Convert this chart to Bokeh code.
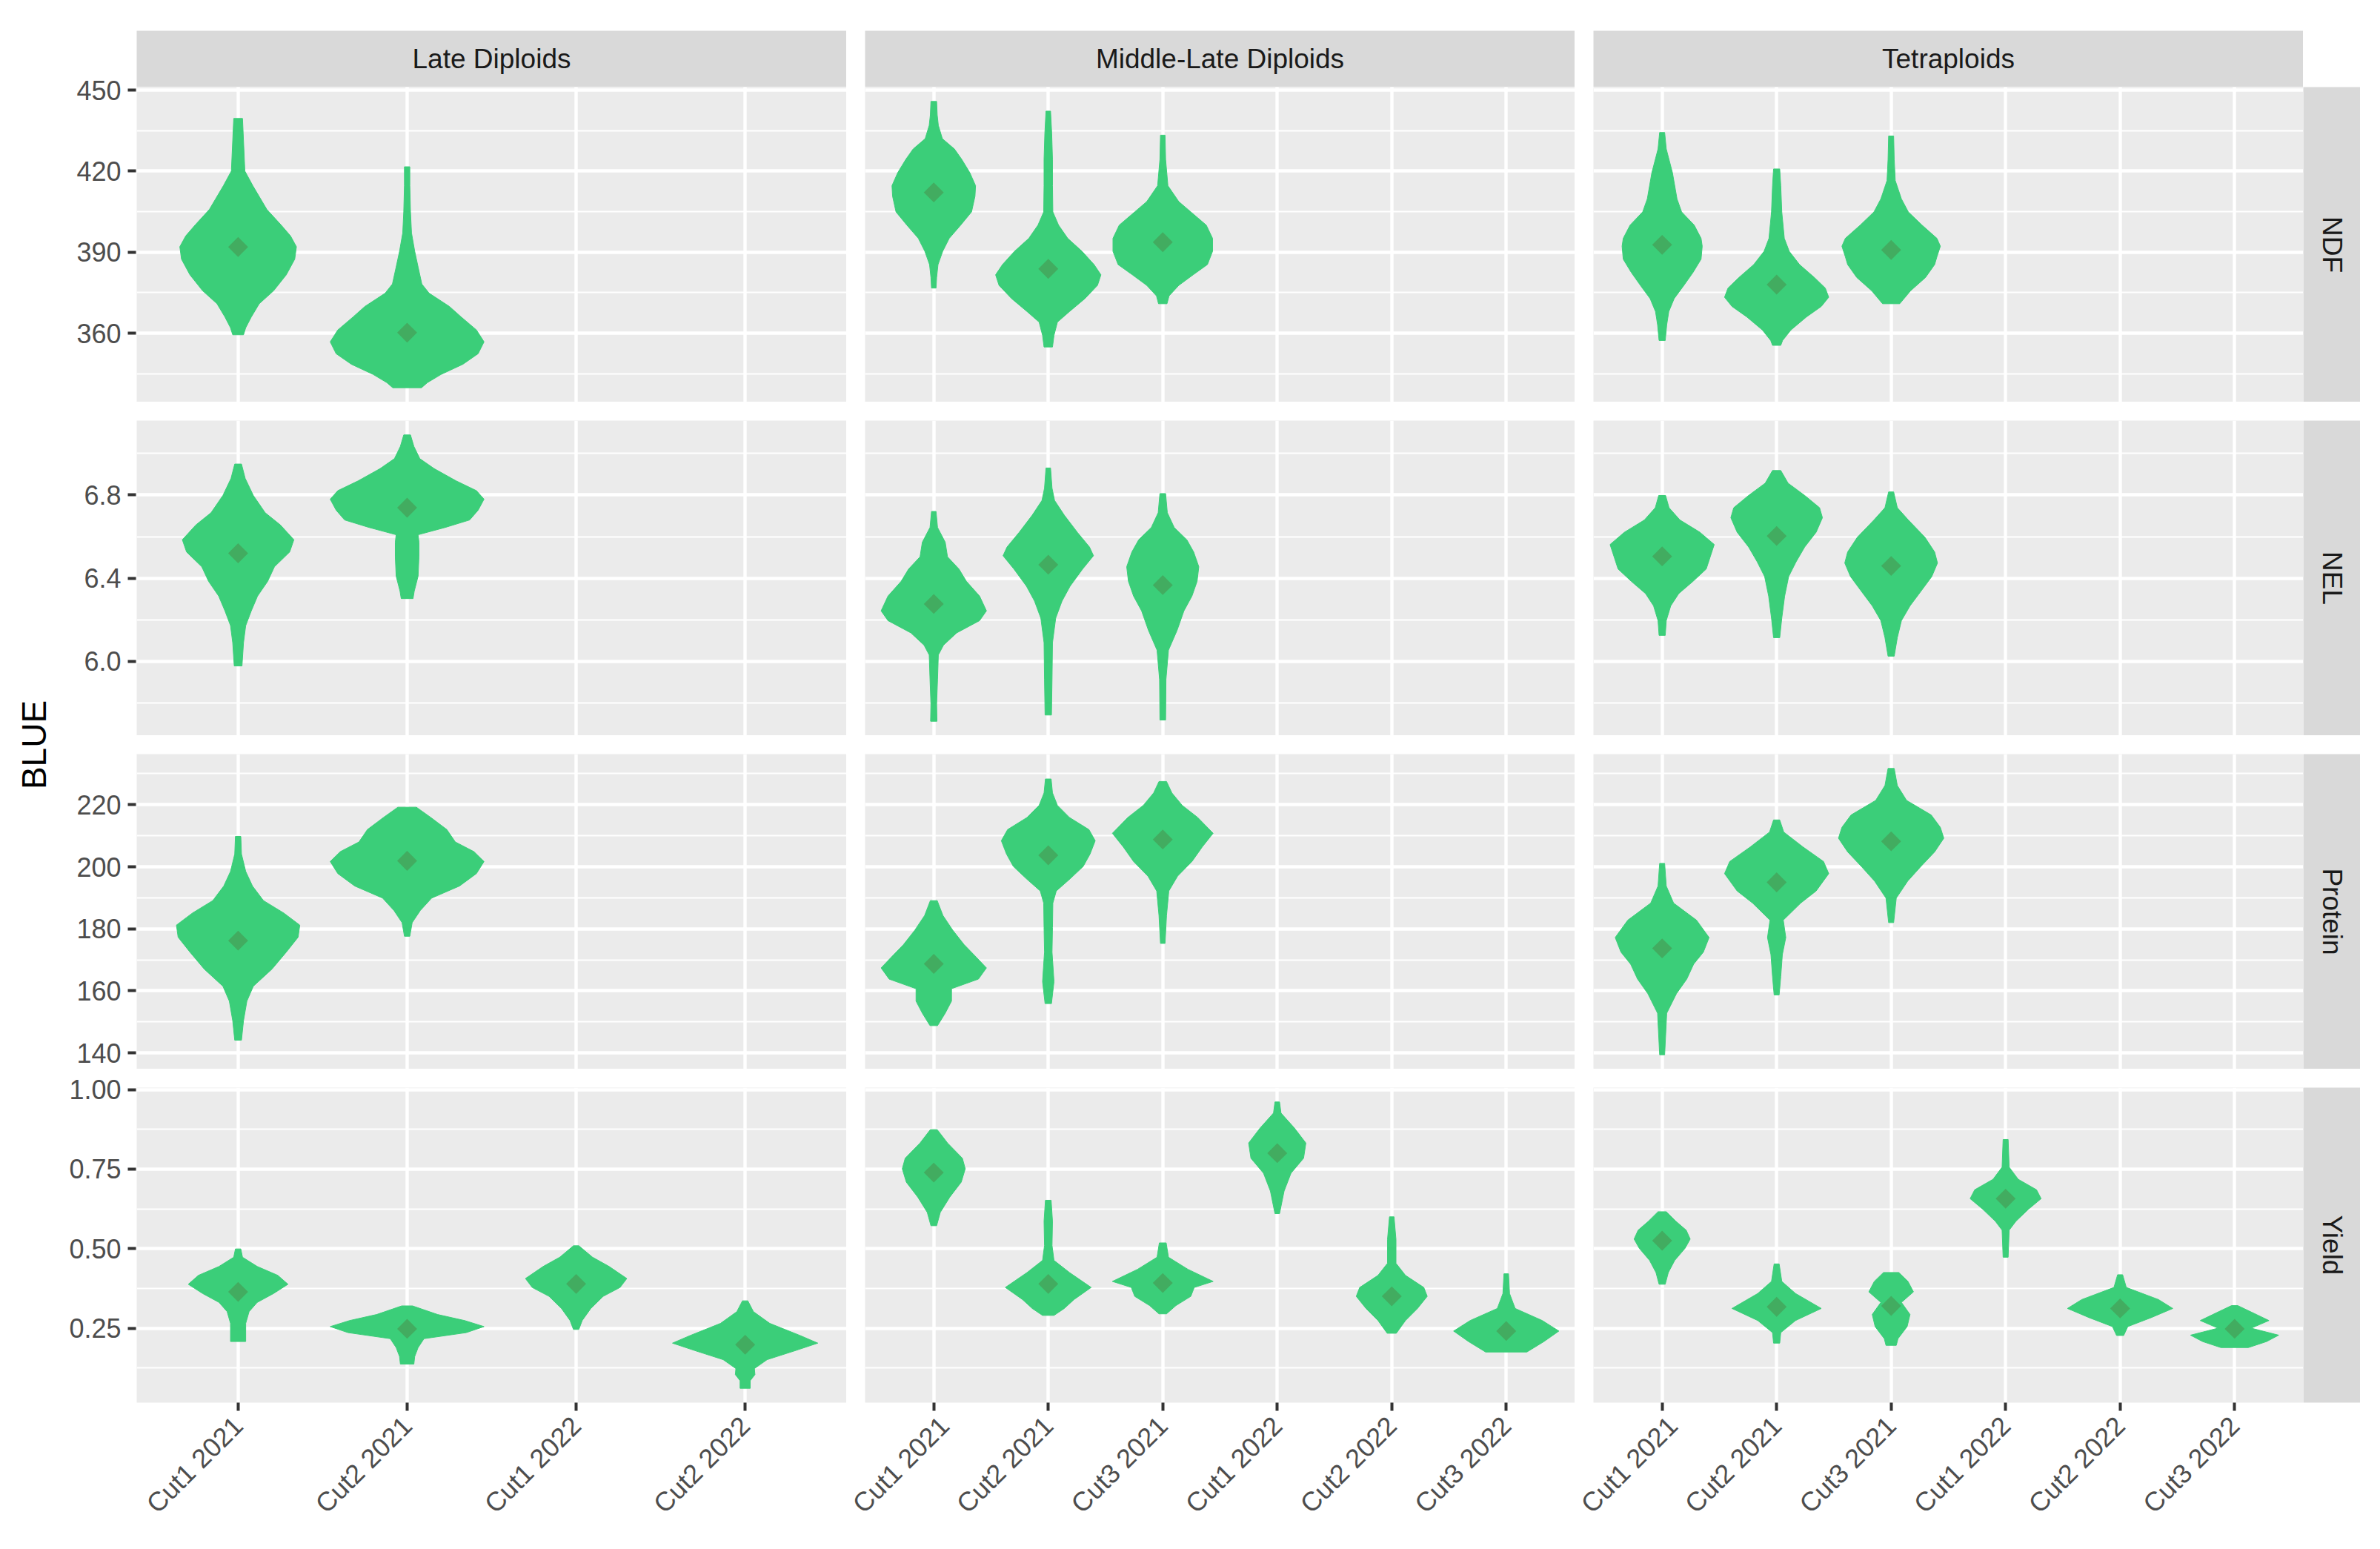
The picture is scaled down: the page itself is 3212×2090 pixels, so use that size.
import math
from bokeh.plotting import figure
from bokeh.models import Range1d, LinearAxis, FixedTicker, Grid, Spacer
from bokeh.layouts import row, column
from bokeh.core.properties import value
from bokeh.embed import file_html
from bokeh.resources import INLINE

# ---------------- data ----------------
groups = ["Late Diploids", "Middle-Late Diploids", "Tetraploids"]
traits = ["NDF", "NEL", "Protein", "Yield"]
cuts_late = ["Cut1 2021", "Cut2 2021", "Cut1 2022", "Cut2 2022"]
cuts_other = ["Cut1 2021", "Cut2 2021", "Cut3 2021", "Cut1 2022", "Cut2 2022", "Cut3 2022"]

ndf_ticks = [360, 390, 420, 450]
ndf_tick_labels = ["360", "390", "420", "450"]
ndf_minor = [345, 375, 405, 435]
nel_ticks = [6.0, 6.4, 6.8]
nel_tick_labels = ["6.0", "6.4", "6.8"]
nel_minor = [5.8, 6.2, 6.6, 7.0]
protein_ticks = [140, 160, 180, 200, 220]
protein_tick_labels = ["140", "160", "180", "200", "220"]
protein_minor = [150, 170, 190, 210, 230]
yield_ticks = [0.25, 0.50, 0.75, 1.00]
yield_tick_labels = ["0.25", "0.50", "0.75", "1.00"]
yield_minor = [0.125, 0.375, 0.625, 0.875]

# Violin outlines: value levels (top to bottom) and half-widths (category units)
# ---- NDF ----
ndf_late_cut = ["Cut1 2021", "Cut2 2021"]
ndf_late_mean = [391.9, 360.2]
ndf_late_y = [
    [439.5, 434, 420, 414.6, 405.8, 400, 396, 392, 387.4, 381.6, 375.7, 370.9, 366, 362, 359.4],
    [421.6, 414.6, 404.9, 397.1, 390.3, 384.5, 378.2, 374.8, 369.9, 366, 361.2, 356.8, 352.4, 348.5, 344.7, 341.7, 339.8],
]
ndf_late_w = [
    [0.026, 0.03, 0.04, 0.087, 0.17, 0.255, 0.31, 0.345, 0.335, 0.285, 0.21, 0.125, 0.078, 0.045, 0.032],
    [0.016, 0.016, 0.02, 0.026, 0.045, 0.065, 0.087, 0.13, 0.25, 0.32, 0.41, 0.455, 0.42, 0.33, 0.2, 0.12, 0.085],
]
ndf_mid_cut = ["Cut1 2021", "Cut2 2021", "Cut3 2021"]
ndf_mid_mean = [412.1, 383.8, 393.7]
ndf_mid_y = [
    [445.8, 440.8, 436.9, 432, 428.2, 424.3, 419.4, 414.6, 410.7, 404.9, 400, 395.1, 390.3, 385.4, 380.6, 376.7],
    [442.2, 434, 424.3, 414.6, 404.9, 400, 395.1, 390.3, 385.4, 381.6, 377.7, 372.8, 368, 364.1, 359.2, 354.9],
    [433.3, 424.3, 414.6, 408.7, 404.9, 400, 395.1, 390.3, 385.4, 381.6, 377.7, 373.8, 370.9],
]
ndf_mid_w = [
    [0.025, 0.03, 0.04, 0.075, 0.18, 0.245, 0.315, 0.365, 0.36, 0.33, 0.235, 0.135, 0.078, 0.037, 0.025, 0.02],
    [0.02, 0.03, 0.037, 0.037, 0.04, 0.09, 0.17, 0.295, 0.4, 0.46, 0.43, 0.32, 0.185, 0.08, 0.05, 0.037],
    [0.02, 0.025, 0.045, 0.14, 0.245, 0.38, 0.435, 0.435, 0.39, 0.265, 0.14, 0.055, 0.037],
]
ndf_tetra_cut = ["Cut1 2021", "Cut2 2021", "Cut3 2021"]
ndf_tetra_mean = [392.7, 378.0, 390.8]
ndf_tetra_y = [
    [434.3, 428.2, 419.4, 409.7, 404.9, 400, 395.1, 392.2, 387.4, 382.5, 377.7, 372.8, 368, 363.1, 357.3],
    [420.8, 414.6, 404.9, 395.1, 390.3, 385.4, 380.6, 376.7, 373.3, 369.9, 366, 361.2, 357.3, 355.5],
    [433, 424.3, 416.5, 409.7, 404.9, 400, 395.1, 392.2, 388.3, 385.4, 380.6, 375.7, 370.9],
]
ndf_tetra_w = [
    [0.022, 0.036, 0.09, 0.13, 0.17, 0.28, 0.34, 0.35, 0.34, 0.27, 0.19, 0.105, 0.058, 0.04, 0.027],
    [0.027, 0.036, 0.045, 0.067, 0.11, 0.2, 0.33, 0.425, 0.455, 0.39, 0.26, 0.125, 0.052, 0.036],
    [0.022, 0.027, 0.036, 0.09, 0.15, 0.27, 0.4, 0.43, 0.4, 0.38, 0.3, 0.17, 0.075],
]
# ---- NEL ----
nel_late_cut = ["Cut1 2021", "Cut2 2021"]
nel_late_mean = [6.52, 6.739]
nel_late_y = [
    [6.949, 6.88, 6.798, 6.715, 6.656, 6.585, 6.526, 6.455, 6.385, 6.314, 6.243, 6.172, 6.09, 5.978],
    [7.089, 7.034, 6.975, 6.927, 6.868, 6.821, 6.78, 6.727, 6.68, 6.644, 6.609, 6.573, 6.503, 6.41, 6.337, 6.302],
]
nel_late_w = [
    [0.02, 0.042, 0.09, 0.16, 0.25, 0.33, 0.305, 0.215, 0.175, 0.115, 0.078, 0.045, 0.032, 0.023],
    [0.02, 0.04, 0.075, 0.16, 0.29, 0.41, 0.455, 0.42, 0.37, 0.225, 0.065, 0.07, 0.07, 0.065, 0.042, 0.035],
]
nel_mid_cut = ["Cut1 2021", "Cut2 2021", "Cut3 2021"]
nel_mid_mean = [6.276, 6.465, 6.367]
nel_mid_y = [
    [6.721, 6.644, 6.573, 6.503, 6.444, 6.385, 6.314, 6.243, 6.196, 6.137, 6.078, 6.031, 5.913, 5.795, 5.712],
    [6.93, 6.833, 6.774, 6.703, 6.62, 6.55, 6.508, 6.444, 6.361, 6.29, 6.208, 6.09, 5.913, 5.742],
    [6.807, 6.715, 6.644, 6.585, 6.526, 6.455, 6.385, 6.314, 6.243, 6.149, 6.054, 5.913, 5.718],
]
nel_mid_w = [
    [0.02, 0.033, 0.1, 0.12, 0.22, 0.285, 0.4, 0.46, 0.4, 0.2, 0.085, 0.04, 0.033, 0.025, 0.028],
    [0.02, 0.033, 0.055, 0.14, 0.255, 0.36, 0.395, 0.3, 0.19, 0.12, 0.065, 0.037, 0.033, 0.028],
    [0.025, 0.04, 0.1, 0.21, 0.27, 0.315, 0.3, 0.255, 0.185, 0.125, 0.05, 0.028, 0.025],
]
nel_tetra_cut = ["Cut1 2021", "Cut2 2021", "Cut3 2021"]
nel_tetra_mean = [6.505, 6.603, 6.459]
nel_tetra_y = [
    [6.798, 6.739, 6.68, 6.621, 6.562, 6.503, 6.444, 6.385, 6.326, 6.267, 6.196, 6.125],
    [6.918, 6.857, 6.798, 6.739, 6.691, 6.621, 6.55, 6.479, 6.408, 6.314, 6.208, 6.114],
    [6.815, 6.739, 6.68, 6.597, 6.526, 6.473, 6.408, 6.337, 6.267, 6.196, 6.114, 6.025],
]
nel_tetra_w = [
    [0.03, 0.06, 0.155, 0.33, 0.455, 0.42, 0.385, 0.27, 0.145, 0.075, 0.036, 0.027],
    [0.036, 0.1, 0.245, 0.375, 0.4, 0.345, 0.245, 0.17, 0.105, 0.07, 0.045, 0.027],
    [0.022, 0.054, 0.15, 0.295, 0.38, 0.405, 0.355, 0.26, 0.165, 0.09, 0.054, 0.027],
]
# ---- Protein ----
protein_late_cut = ["Cut1 2021", "Cut2 2021"]
protein_late_mean = [176.2, 201.9]
protein_late_y = [
    [209.8, 204.1, 198.5, 193.8, 189.1, 185.1, 181.2, 177.3, 172.5, 167, 161.5, 156.7, 150.4, 144.1],
    [219.2, 215.9, 212, 208, 204.9, 201.7, 197.8, 193.8, 189.9, 185.9, 182, 177.6],
]
protein_late_w = [
    [0.016, 0.02, 0.045, 0.085, 0.15, 0.27, 0.365, 0.355, 0.285, 0.2, 0.09, 0.052, 0.032, 0.02],
    [0.055, 0.14, 0.235, 0.285, 0.395, 0.455, 0.41, 0.31, 0.145, 0.078, 0.03, 0.016],
]
protein_mid_cut = ["Cut1 2021", "Cut2 2021", "Cut3 2021"]
protein_mid_mean = [168.7, 203.7, 208.8]
protein_mid_y = [
    [189.1, 184.3, 179.6, 174.9, 170.9, 167.4, 163.8, 160.7, 156.7, 152.8, 148.8],
    [228.3, 223.8, 219.8, 215.9, 212, 208.4, 204.1, 200.1, 196.1, 192.2, 188.3, 180.4, 172.5, 168.6, 163, 155.9],
    [227.5, 223.8, 219.8, 215.9, 210.8, 206.4, 201.7, 197, 192.2, 184.3, 175.3],
]
protein_mid_w = [
    [0.03, 0.08, 0.165, 0.265, 0.37, 0.46, 0.39, 0.155, 0.155, 0.1, 0.033],
    [0.025, 0.037, 0.08, 0.185, 0.355, 0.41, 0.365, 0.305, 0.19, 0.07, 0.04, 0.037, 0.033, 0.04, 0.05, 0.028],
    [0.033, 0.08, 0.17, 0.305, 0.44, 0.345, 0.255, 0.13, 0.053, 0.033, 0.02],
]
protein_tetra_cut = ["Cut1 2021", "Cut2 2021", "Cut3 2021"]
protein_tetra_mean = [173.7, 195.0, 208.2]
protein_tetra_y = [
    [201.1, 193.8, 188.3, 182.8, 177.2, 172.5, 168.6, 163.8, 159.1, 152.8, 139.4],
    [215.1, 211.2, 206.4, 201.7, 197.8, 192.2, 188.3, 182.8, 177.2, 171.7, 164.6, 158.7],
    [231.7, 226.2, 221.4, 216.7, 212.7, 209.2, 204.8, 200.1, 195.4, 189.9, 182],
]
protein_tetra_w = [
    [0.022, 0.036, 0.1, 0.3, 0.41, 0.36, 0.275, 0.215, 0.125, 0.04, 0.022],
    [0.027, 0.062, 0.23, 0.41, 0.455, 0.345, 0.21, 0.058, 0.08, 0.05, 0.036, 0.022],
    [0.027, 0.054, 0.135, 0.35, 0.43, 0.46, 0.38, 0.26, 0.145, 0.045, 0.022],
]
# ---- Yield ----
yield_late_cut = ["Cut1 2021", "Cut2 2021", "Cut1 2022", "Cut2 2022"]
yield_late_mean = [0.364, 0.248, 0.389, 0.198]
yield_late_y = [
    [0.499, 0.473, 0.444, 0.416, 0.388, 0.359, 0.331, 0.302, 0.265, 0.236, 0.208],
    [0.32, 0.293, 0.274, 0.255, 0.236, 0.217, 0.189, 0.161, 0.137],
    [0.509, 0.473, 0.444, 0.406, 0.378, 0.35, 0.312, 0.274, 0.246],
    [0.336, 0.302, 0.265, 0.227, 0.203, 0.18, 0.151, 0.123, 0.104, 0.085, 0.061],
]
yield_late_w = [
    [0.016, 0.026, 0.113, 0.235, 0.295, 0.21, 0.113, 0.065, 0.045, 0.045, 0.045],
    [0.032, 0.18, 0.34, 0.455, 0.35, 0.1, 0.065, 0.045, 0.04],
    [0.016, 0.097, 0.195, 0.3, 0.26, 0.16, 0.087, 0.036, 0.016],
    [0.016, 0.049, 0.146, 0.325, 0.43, 0.3, 0.13, 0.055, 0.058, 0.03, 0.03],
]
yield_mid_cut = ["Cut1 2021", "Cut2 2021", "Cut3 2021", "Cut1 2022", "Cut2 2022", "Cut3 2022"]
yield_mid_mean = [0.739, 0.389, 0.392, 0.80, 0.35, 0.241]
yield_mid_y = [
    [0.874, 0.832, 0.784, 0.751, 0.709, 0.662, 0.614, 0.572],
    [0.652, 0.586, 0.51, 0.463, 0.425, 0.378, 0.34, 0.312, 0.29],
    [0.518, 0.473, 0.435, 0.397, 0.378, 0.35, 0.321, 0.295],
    [0.961, 0.926, 0.879, 0.832, 0.784, 0.737, 0.681, 0.61],
    [0.6, 0.529, 0.454, 0.416, 0.378, 0.35, 0.312, 0.274, 0.234],
    [0.421, 0.359, 0.312, 0.274, 0.241, 0.208, 0.175],
]
yield_mid_w = [
    [0.03, 0.12, 0.25, 0.275, 0.24, 0.14, 0.057, 0.025],
    [0.025, 0.037, 0.033, 0.05, 0.185, 0.375, 0.225, 0.14, 0.05],
    [0.03, 0.05, 0.22, 0.44, 0.275, 0.245, 0.115, 0.033],
    [0.02, 0.033, 0.15, 0.25, 0.23, 0.12, 0.06, 0.02],
    [0.02, 0.037, 0.037, 0.12, 0.28, 0.31, 0.225, 0.12, 0.04],
    [0.02, 0.029, 0.078, 0.315, 0.46, 0.33, 0.18],
]
yield_tetra_cut = ["Cut1 2021", "Cut2 2021", "Cut3 2021", "Cut1 2022", "Cut2 2022", "Cut3 2022"]
yield_tetra_mean = [0.525, 0.317, 0.32, 0.657, 0.312, 0.248]
yield_tetra_y = [
    [0.616, 0.586, 0.558, 0.53, 0.501, 0.463, 0.425, 0.388],
    [0.452, 0.397, 0.359, 0.312, 0.274, 0.236, 0.203],
    [0.425, 0.397, 0.364, 0.331, 0.293, 0.255, 0.217, 0.196],
    [0.843, 0.756, 0.718, 0.685, 0.657, 0.624, 0.586, 0.558, 0.473],
    [0.418, 0.378, 0.34, 0.312, 0.283, 0.255, 0.227],
    [0.321, 0.293, 0.274, 0.25, 0.228, 0.208, 0.189],
]
yield_tetra_w = [
    [0.036, 0.12, 0.21, 0.245, 0.2, 0.11, 0.054, 0.027],
    [0.022, 0.045, 0.165, 0.39, 0.165, 0.036, 0.027],
    [0.067, 0.147, 0.195, 0.09, 0.165, 0.14, 0.06, 0.045],
    [0.022, 0.031, 0.11, 0.27, 0.31, 0.2, 0.09, 0.031, 0.022],
    [0.022, 0.054, 0.335, 0.46, 0.27, 0.067, 0.031],
    [0.027, 0.19, 0.3, 0.145, 0.385, 0.28, 0.12],
]

# --------------- tables built from the lists ---------------
PANELS = {
    ("NDF", 0): (ndf_late_cut, ndf_late_mean, ndf_late_y, ndf_late_w),
    ("NDF", 1): (ndf_mid_cut, ndf_mid_mean, ndf_mid_y, ndf_mid_w),
    ("NDF", 2): (ndf_tetra_cut, ndf_tetra_mean, ndf_tetra_y, ndf_tetra_w),
    ("NEL", 0): (nel_late_cut, nel_late_mean, nel_late_y, nel_late_w),
    ("NEL", 1): (nel_mid_cut, nel_mid_mean, nel_mid_y, nel_mid_w),
    ("NEL", 2): (nel_tetra_cut, nel_tetra_mean, nel_tetra_y, nel_tetra_w),
    ("Protein", 0): (protein_late_cut, protein_late_mean, protein_late_y, protein_late_w),
    ("Protein", 1): (protein_mid_cut, protein_mid_mean, protein_mid_y, protein_mid_w),
    ("Protein", 2): (protein_tetra_cut, protein_tetra_mean, protein_tetra_y, protein_tetra_w),
    ("Yield", 0): (yield_late_cut, yield_late_mean, yield_late_y, yield_late_w),
    ("Yield", 1): (yield_mid_cut, yield_mid_mean, yield_mid_y, yield_mid_w),
    ("Yield", 2): (yield_tetra_cut, yield_tetra_mean, yield_tetra_y, yield_tetra_w),
}
TICKS = {
    "NDF": (ndf_ticks, ndf_tick_labels, ndf_minor),
    "NEL": (nel_ticks, nel_tick_labels, nel_minor),
    "Protein": (protein_ticks, protein_tick_labels, protein_minor),
    "Yield": (yield_ticks, yield_tick_labels, yield_minor),
}
COL_CUTS = [cuts_late, cuts_other, cuts_other]

# --------------- styling ---------------
FONT = "Liberation Sans"
FILL = "#3BCE79"
MEAN_COLOR = "#42AC60"
PANEL_BG = "#EBEBEB"
STRIP_BG = "#D9D9D9"
FRAME_W = 958
FRAME_H = 425
GAP = 25
AXIS_W = 96
BLUE_W = 88
STRIP_H = 76
TOP_PAD = 41
HEAD = TOP_PAD + STRIP_H
BOTTOM_AXIS = 185
RSTRIP_W = 77


def yrange(trait):
    lo = min(min(v) for c in range(3) for v in PANELS[(trait, c)][2])
    hi = max(max(v) for c in range(3) for v in PANELS[(trait, c)][2])
    pad = 0.05 * (hi - lo)
    return lo - pad, hi + pad


YR = {t: yrange(t) for t in traits}


def axis_style(ax):
    ax.axis_line_color = None
    ax.major_tick_line_color = "#333333"
    ax.major_tick_line_width = 4
    ax.major_tick_out = 11
    ax.major_tick_in = 0
    ax.minor_tick_line_color = None
    ax.major_label_standoff = 9
    ax.major_label_text_font = FONT
    ax.major_label_text_font_size = "36px"
    ax.major_label_text_color = "#4D4D4D"


def vborders(ri):
    top = HEAD if ri == 0 else GAP
    bottom = BOTTOM_AXIS if ri == 3 else 0
    return top, bottom


def base_fig(width, height, left, top, bottom, xr, yr, bg):
    return figure(width=width, height=height, x_range=xr, y_range=yr,
                  x_axis_type=None, y_axis_type=None, title=None,
                  output_backend="svg", toolbar_location=None,
                  min_border=0, min_border_left=left, min_border_right=0,
                  min_border_top=top, min_border_bottom=bottom,
                  background_fill_color=bg, border_fill_color="white",
                  outline_line_color=None)


def panel(trait, ci, ri):
    cats = COL_CUTS[ci]
    n = len(cats)
    lo, hi = YR[trait]
    left = 0 if ci == 0 else GAP
    top = 0 if ri == 0 else GAP
    bottom = BOTTOM_AXIS if ri == 3 else 0
    p = base_fig(left + FRAME_W, top + FRAME_H + bottom, left, top, bottom,
                 Range1d(0.4, n + 0.6), Range1d(lo, hi), PANEL_BG)
    yt, yl, ym = TICKS[trait]
    p.add_layout(Grid(dimension=1, ticker=FixedTicker(ticks=yt, minor_ticks=ym),
                      grid_line_color="white", grid_line_width=4.4,
                      minor_grid_line_color="white", minor_grid_line_width=2.2))
    xt = list(range(1, n + 1))
    p.add_layout(Grid(dimension=0, ticker=FixedTicker(ticks=xt),
                      grid_line_color="white", grid_line_width=4.4))

    cut, means, vys, vws = PANELS[(trait, ci)]
    pos = [cats.index(c) + 1 for c in cut]
    xs, ys = [], []
    for c, vy, vw in zip(pos, vys, vws):
        xs.append([c + w for w in vw] + [c - w for w in reversed(vw)])
        ys.append(list(vy) + list(reversed(vy)))
    p.patches(xs=xs, ys=ys, fill_color=FILL, line_color=FILL, line_width=1)
    p.scatter(x=pos, y=means, marker="square", angle=math.pi / 4, size=19,
              fill_color=MEAN_COLOR, line_color=None)

    if ri == 3:
        ax = LinearAxis(ticker=FixedTicker(ticks=xt),
                        major_label_overrides={i + 1: c for i, c in enumerate(cats)})
        axis_style(ax)
        ax.major_label_orientation = math.pi / 4
        ax.major_label_standoff = 14
        p.add_layout(ax, "below")
    return p


def yaxis_fig(trait, ri):
    top, bottom = vborders(ri)
    lo, hi = YR[trait]
    f = base_fig(AXIS_W, top + FRAME_H + bottom, AXIS_W - 1, top, bottom,
                 Range1d(0, 1), Range1d(lo, hi), "white")
    yt, yl, _ = TICKS[trait]
    ax = LinearAxis(ticker=FixedTicker(ticks=yt),
                    major_label_overrides={t: l for t, l in zip(yt, yl)})
    axis_style(ax)
    f.add_layout(ax, "left")
    return f


def strip_fig(width, height, left, top, bottom, label, angle):
    s = base_fig(width, height, left, top, bottom, Range1d(0, 1), Range1d(0, 1), STRIP_BG)
    s.text(x=[0.5], y=[0.5], text=[label], angle=angle, text_align="center",
           text_baseline="middle", text_font=value(FONT), text_font_size="37px",
           text_color="#1A1A1A")
    return s


cols = []
# y-axis column (no strip above)
cols.append(column(*[yaxis_fig(t, ri) for ri, t in enumerate(traits)]))
# panel columns, each with its strip on top
for ci, g in enumerate(groups):
    left = 0 if ci == 0 else GAP
    items = [strip_fig(left + FRAME_W, HEAD, left, TOP_PAD, 0, g, 0)]
    items += [panel(t, ci, ri) for ri, t in enumerate(traits)]
    cols.append(column(*items))
# right strips
ritems = [Spacer(width=RSTRIP_W, height=HEAD)]
for ri, t in enumerate(traits):
    top = 0 if ri == 0 else GAP
    bottom = BOTTOM_AXIS if ri == 3 else 0
    ritems.append(strip_fig(RSTRIP_W, top + FRAME_H + bottom, 0, top, bottom, t, -math.pi / 2))
cols.append(column(*ritems))

total_h = HEAD + 4 * FRAME_H + 3 * GAP + BOTTOM_AXIS
bf = base_fig(BLUE_W, total_h, 0, HEAD, BOTTOM_AXIS, Range1d(0, BLUE_W), Range1d(0, 1), "white")
bf.text(x=[45], y=[0.5], text=["BLUE"], angle=math.pi / 2, text_align="center",
        text_baseline="middle", text_font=value(FONT), text_font_size="46px",
        text_color="black")

layout = row(bf, *cols)
open("out.html", "w").write(file_html(layout, INLINE))
